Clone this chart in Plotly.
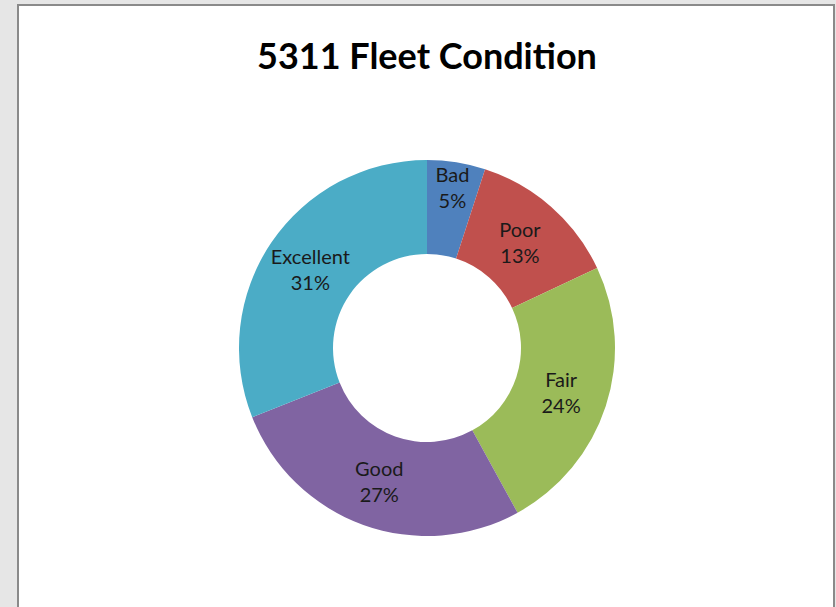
import plotly.graph_objects as go

categories = ["Bad", "Poor", "Fair", "Good", "Excellent"]
values = [5, 13, 24, 27, 31]
colors = ["#4F81BD", "#C0504D", "#9BBB59", "#8064A2", "#4BACC6"]
title_text = "5311 Fleet Condition"

W, H = 836, 607
cx, cy, r = 427, 348, 188

fig = go.Figure(go.Pie(
    labels=categories,
    values=values,
    hole=0.5,
    sort=False,
    direction="clockwise",
    rotation=0,
    marker=dict(colors=colors, line=dict(width=0)),
    texttemplate="%{label}<br>%{percent:.0%}",
    textposition="inside",
    insidetextorientation="horizontal",
    textfont=dict(family="Lato", size=20, color="#1a1a1a"),
    showlegend=False,
    domain=dict(x=[(cx - r) / W, (cx + r) / W], y=[(H - cy - r) / H, (H - cy + r) / H]),
))

fig.update_layout(
    width=W, height=H,
    margin=dict(l=0, r=0, t=0, b=0),
    paper_bgcolor="#e6e6e6",
    plot_bgcolor="#e6e6e6",
    uniformtext=dict(minsize=20, mode="show"),
    title=dict(text="<b>" + title_text + "</b>", x=427 / W, xanchor="center",
               y=1 - 56 / H, yanchor="middle",
               font=dict(family="Lato", size=36, color="#000000")),
    shapes=[
        dict(type="rect", xref="paper", yref="paper", layer="below",
             x0=18 / W, x1=834 / W, y0=-0.02, y1=1 - 5 / H,
             fillcolor="#ffffff", line=dict(color="#8a8a8a", width=2)),
    ],
)

fig.write_html("out.html",
               config={"displayModeBar": False},
               post_script="document.body.style.margin='0';document.body.style.padding='0';document.body.style.background='#e6e6e6';")
